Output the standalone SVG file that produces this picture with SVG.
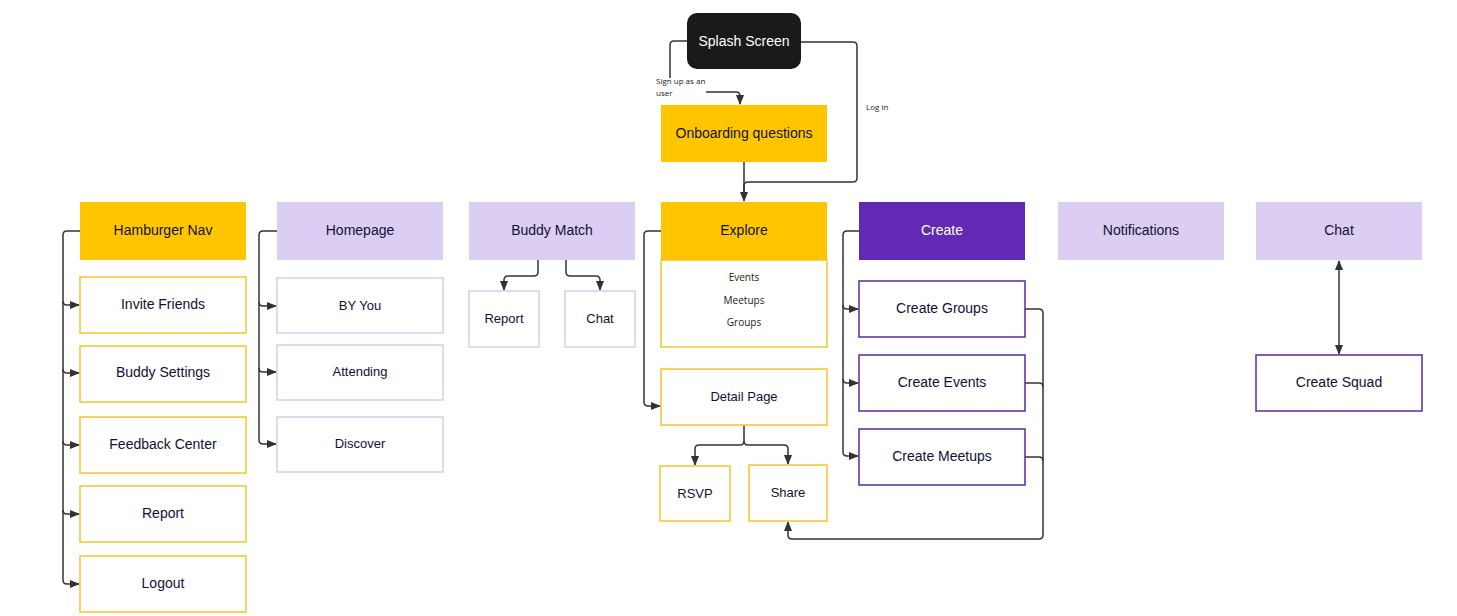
<svg xmlns="http://www.w3.org/2000/svg" width="1457" height="616" viewBox="0 0 1457 616">
<style>
text{font-family:"Liberation Sans",Arial,sans-serif;font-size:14px;fill:#111133;text-anchor:middle;dominant-baseline:central}
.sm{font-family:"Open Sans","Liberation Sans",sans-serif;font-size:10px;fill:#222}
.lbl{font-family:"Open Sans","Liberation Sans",sans-serif;font-size:8px;fill:#222;text-anchor:start}
.y{fill:#ffc600}
.l{fill:#dccdf2}
.yb{fill:#fff;stroke:#f2c531;stroke-width:1.5}
.lb{fill:#fff;stroke:#d8cdef;stroke-width:1.5}
.pb{fill:#fff;stroke:#5a2b9c;stroke-width:1.5}
.c path{fill:none;stroke:#333;stroke-width:1.5}
</style>
<defs>
<marker id="a" viewBox="0 0 10 10" refX="9" refY="5" markerWidth="7" markerHeight="7" orient="auto-start-reverse"><path d="M0,1L10,5L0,9z" fill="#333"/></marker>
</defs>
<rect width="1457" height="616" fill="#fff"/>
<g class="c">
<path d="M687,41H674Q670,41 670,45V78"/>
<path d="M706,92H736Q740,92 740,96V104" marker-end="url(#a)"/>
<path d="M744,162V201" marker-end="url(#a)"/>
<path d="M801,42H853Q857,42 857,46V178Q857,182 853,182H748Q744,182 744,186V200"/>
<path d="M80,231H67Q63,231 63,235V580Q63,584 67,584H79" marker-end="url(#a)"/>
<path d="M63,301Q63,305 67,305H79" marker-end="url(#a)"/>
<path d="M63,369Q63,373 67,373H79" marker-end="url(#a)"/>
<path d="M63,441Q63,445 67,445H79" marker-end="url(#a)"/>
<path d="M63,510Q63,514 67,514H79" marker-end="url(#a)"/>
<path d="M277,231H263Q259,231 259,235V440Q259,444 263,444H276" marker-end="url(#a)"/>
<path d="M259,302Q259,306 263,306H276" marker-end="url(#a)"/>
<path d="M259,368Q259,372 263,372H276" marker-end="url(#a)"/>
<path d="M538,260V272Q538,276 534,276H508Q504,276 504,280V290" marker-end="url(#a)"/>
<path d="M566,260V272Q566,276 570,276H596Q600,276 600,280V290" marker-end="url(#a)"/>
<path d="M661,231H648Q644,231 644,235V402Q644,406 648,406H660" marker-end="url(#a)"/>
<path d="M744,425V441Q744,445 740,445H699Q695,445 695,449V465" marker-end="url(#a)"/>
<path d="M744,441Q744,445 748,445H784Q788,445 788,449V464" marker-end="url(#a)"/>
<path d="M859,231H847Q843,231 843,235V452Q843,456 847,456H858" marker-end="url(#a)"/>
<path d="M843,305Q843,309 847,309H858" marker-end="url(#a)"/>
<path d="M843,379Q843,383 847,383H858" marker-end="url(#a)"/>
<path d="M1025,309H1039Q1043,309 1043,313V535Q1043,539 1039,539H792Q788,539 788,535V522" marker-end="url(#a)"/>
<path d="M1025,383H1039Q1043,383 1043,387"/>
<path d="M1025,457H1039Q1043,457 1043,461"/>
<path d="M1339,261V354" marker-start="url(#a)" marker-end="url(#a)"/>
</g>
<text class="lbl" x="656" y="80">Sign up as an</text>
<text class="lbl" x="656" y="92">user</text>
<text class="lbl" x="866" y="106">Log in</text>
<g id="splash"><rect x="687" y="13" width="114" height="56" rx="10" fill="#1a1a1a"/><text x="744" y="41" style="fill:#fff">Splash Screen</text></g>
<g id="onboarding"><rect class="y" x="661" y="105" width="166" height="57"/><text x="744" y="133">Onboarding questions</text></g>
<g id="hamburger"><rect class="y" x="80" y="202" width="166" height="58"/><text x="163" y="230">Hamburger Nav</text></g>
<g id="invite"><rect class="yb" x="80" y="277" width="166" height="56"/><text x="163" y="304">Invite Friends</text></g>
<g id="buddysettings"><rect class="yb" x="80" y="346" width="166" height="56"/><text x="163" y="372">Buddy Settings</text></g>
<g id="feedback"><rect class="yb" x="80" y="417" width="166" height="56"/><text x="163" y="444">Feedback Center</text></g>
<g id="report1"><rect class="yb" x="80" y="486" width="166" height="56"/><text x="163" y="513">Report</text></g>
<g id="logout"><rect class="yb" x="80" y="556" width="166" height="56"/><text x="163" y="583">Logout</text></g>
<g id="homepage"><rect class="l" x="277" y="202" width="166" height="58"/><text x="360" y="230">Homepage</text></g>
<g id="byyou"><rect class="lb" x="277" y="278" width="166" height="55"/><text x="360" y="305" style="font-size:13px">BY You</text></g>
<g id="attending"><rect class="lb" x="277" y="345" width="166" height="55"/><text x="360" y="371" style="font-size:13px">Attending</text></g>
<g id="discover"><rect class="lb" x="277" y="417" width="166" height="55"/><text x="360" y="443" style="font-size:13px">Discover</text></g>
<g id="buddymatch"><rect class="l" x="469" y="202" width="166" height="58"/><text x="552" y="230">Buddy Match</text></g>
<g id="report2"><rect class="lb" x="469" y="291" width="70" height="56"/><text x="504" y="318" style="font-size:13px">Report</text></g>
<g id="chat2"><rect class="lb" x="565" y="291" width="70" height="56"/><text x="600" y="318" style="font-size:13px">Chat</text></g>
<g id="explore"><rect class="yb" x="661" y="260" width="166" height="87"/><rect class="y" x="661" y="202" width="166" height="58"/><text x="744" y="230">Explore</text>
<text class="sm" x="744" y="277">Events</text><text class="sm" x="744" y="300">Meetups</text><text class="sm" x="744" y="322">Groups</text></g>
<g id="detail"><rect class="yb" x="661" y="369" width="166" height="56"/><text x="744" y="396" style="font-size:13px">Detail Page</text></g>
<g id="rsvp"><rect class="yb" x="660" y="466" width="70" height="55"/><text x="695" y="493" style="font-size:13px">RSVP</text></g>
<g id="share"><rect class="yb" x="749" y="465" width="78" height="56"/><text x="788" y="492" style="font-size:13px">Share</text></g>
<g id="create"><rect x="859" y="202" width="166" height="58" fill="#6229b5"/><text x="942" y="230" style="fill:#fff">Create</text></g>
<g id="cgroups"><rect class="pb" x="859" y="281" width="166" height="56"/><text x="942" y="308">Create Groups</text></g>
<g id="cevents"><rect class="pb" x="859" y="355" width="166" height="56"/><text x="942" y="382">Create Events</text></g>
<g id="cmeetups"><rect class="pb" x="859" y="429" width="166" height="56"/><text x="942" y="456">Create Meetups</text></g>
<g id="notifications"><rect class="l" x="1058" y="202" width="166" height="58"/><text x="1141" y="230">Notifications</text></g>
<g id="chat"><rect class="l" x="1256" y="202" width="166" height="58"/><text x="1339" y="230">Chat</text></g>
<g id="squad"><rect class="pb" x="1256" y="355" width="166" height="56"/><text x="1339" y="382">Create Squad</text></g>
</svg>
